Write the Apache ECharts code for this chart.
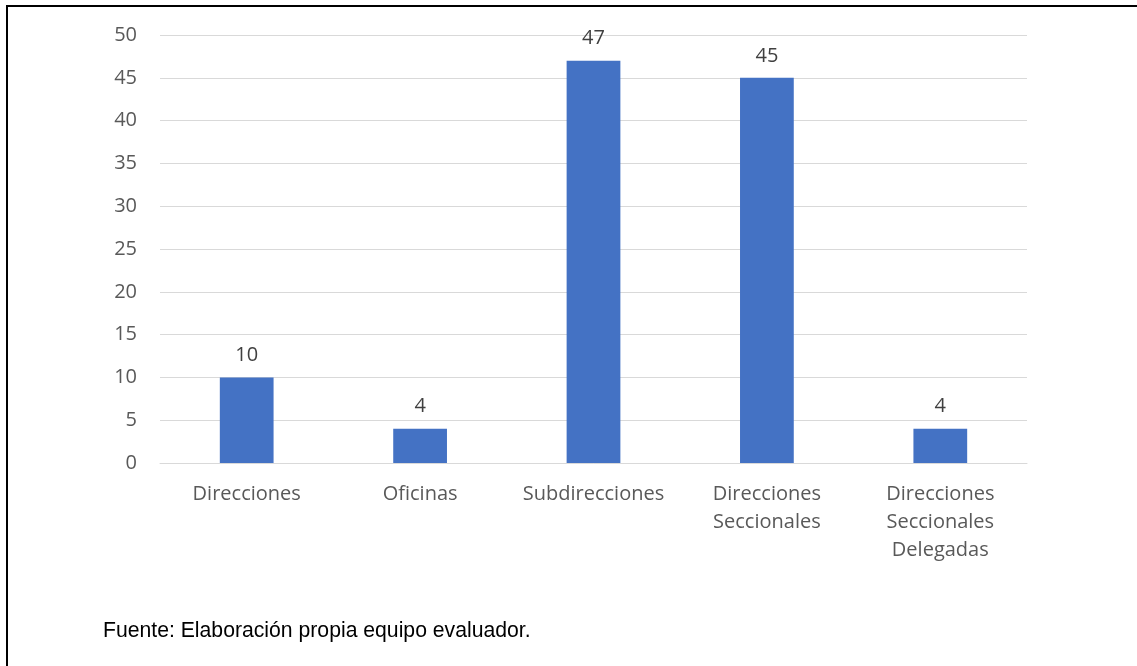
<!DOCTYPE html>
<html>
<head>
<meta charset="utf-8">
<script src="https://cdn.jsdelivr.net/npm/echarts@6/dist/echarts.min.js"></script>
<style>
html,body{margin:0;padding:0;background:#fff;overflow:hidden;}
#frame{position:absolute;left:6px;top:5px;width:1200px;height:700px;border-top:2px solid #000;border-left:2px solid #000;}
#chart{position:absolute;left:0;top:0;width:1137px;height:666px;}
#note{position:absolute;left:103px;top:617px;font-family:"Liberation Sans",Arial,sans-serif;font-size:21.2px;line-height:26px;color:#000;}
</style>
</head>
<body>
<div id="frame"></div>
<div id="chart"></div>
<div id="note">Fuente: Elaboración propia equipo evaluador.</div>
<script>
var categories = ["Direcciones", "Oficinas", "Subdirecciones", "Direcciones\nSeccionales", "Direcciones\nSeccionales\nDelegadas"];
var values = [10, 4, 47, 45, 4];
var yTicks = {min: 0, max: 50, interval: 5};

var chart = echarts.init(document.getElementById('chart'));
chart.setOption({
  animation: false,
  grid: {left: 160, right: 110, top: 35, bottom: 203},
  xAxis: {
    type: 'category',
    data: categories,
    axisLine: {lineStyle: {color: '#D9D9D9', width: 1}},
    axisTick: {show: false},
    axisLabel: {
      color: '#595959', fontSize: 20, fontFamily: '"Open Sans", "Noto Sans", sans-serif',
      margin: 17, lineHeight: 28, interval: 0
    }
  },
  yAxis: {
    type: 'value',
    min: yTicks.min, max: yTicks.max, interval: yTicks.interval,
    axisLine: {show: false},
    axisTick: {show: false},
    splitLine: {lineStyle: {color: '#D9D9D9', width: 1}},
    axisLabel: {
      color: '#595959', fontSize: 20, fontFamily: '"Open Sans", "Noto Sans", sans-serif',
      margin: 23
    }
  },
  series: [{
    type: 'bar',
    data: values,
    barWidth: '31%',
    itemStyle: {color: '#4472C4'},
    label: {
      show: true, position: 'top', distance: 12,
      color: '#404040', fontSize: 20, fontFamily: '"Open Sans", "Noto Sans", sans-serif'
    }
  }]
});
</script>
</body>
</html>
